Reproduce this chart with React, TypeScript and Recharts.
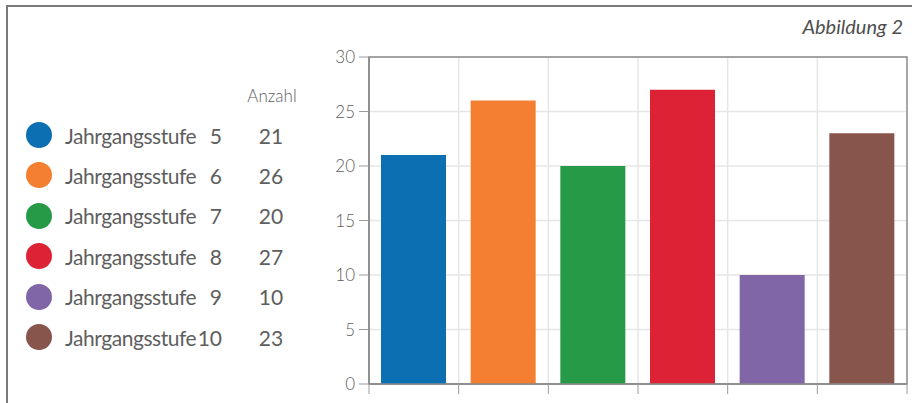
import { BarChart, Bar, Cell, XAxis, YAxis, CartesianGrid, ReferenceArea } from "recharts";

const grades = ["5", "6", "7", "8", "9", "10"];
const counts = [21, 26, 20, 27, 10, 23];
const colors = ["#0b6fb2", "#f47f30", "#279a47", "#dc2234", "#8066a6", "#87554c"];
const yTicks = [0, 5, 10, 15, 20, 25, 30];

const data = grades.map((g, i) => ({ grade: g, count: counts[i] }));

const FONT = "Lato, 'Open Sans', sans-serif";
const TEXT = "#5e5e5e";
const FRAME = "#8a8a8a";

// tick marks sit on the category boundaries, not at the band centres
function BoundaryTick(props: any) {
  const { x, y, payload, index, width, visibleTicksCount } = props;
  const half = payload?.offset || width / visibleTicksCount / 2;
  return (
    <g>
      <line x1={x - half} x2={x - half} y1={y} y2={y + 10} stroke="#9a9a9a" />
      {index === visibleTicksCount - 1 && (
        <line x1={x + half} x2={x + half} y1={y} y2={y + 10} stroke="#9a9a9a" />
      )}
    </g>
  );
}

function Legend() {
  return (
    <div style={{ position: "absolute", left: 0, top: 0, fontFamily: FONT, color: TEXT }}>
      <div
        style={{
          position: "absolute",
          left: 232,
          width: 80,
          top: 85,
          textAlign: "center",
          fontSize: 17,
          fontWeight: 300,
          whiteSpace: "nowrap",
        }}
      >
        Anzahl
      </div>
      {grades.map((g, i) => (
        <div
          key={g}
          style={{
            position: "absolute",
            top: 115 + i * 40.4,
            left: 0,
            height: 40,
            width: 320,
            display: "flex",
            alignItems: "center",
            fontSize: 21,
            whiteSpace: "nowrap",
          }}
        >
          <span
            style={{
              position: "absolute",
              left: 26,
              width: 26,
              height: 26,
              borderRadius: "50%",
              background: colors[i],
            }}
          />
          <span style={{ position: "absolute", left: 65, letterSpacing: -0.45 }}>Jahrgangsstufe</span>
          <span style={{ position: "absolute", left: 192, width: 30, textAlign: "right" }}>{g}</span>
          <span style={{ position: "absolute", left: 246, width: 50, textAlign: "center" }}>
            {counts[i]}
          </span>
        </div>
      ))}
    </div>
  );
}

export default function App() {
  return (
    <div
      style={{
        position: "absolute",
        left: 0,
        top: 0,
        width: 912,
        height: 403,
        overflow: "hidden",
        background: "#fff",
      }}
    >
      <div
        style={{
          position: "absolute",
          left: 6,
          top: 5,
          width: 912,
          height: 403,
          borderTop: "2px solid #7a7a7a",
          borderLeft: "2px solid #7a7a7a",
        }}
      />
      <div
        style={{
          position: "absolute",
          right: 9,
          top: 14,
          fontFamily: FONT,
          fontStyle: "italic",
          fontSize: 20,
          color: "#4e4e4e",
        }}
      >
        Abbildung 2
      </div>
      <Legend />
      <div style={{ position: "absolute", left: 0, top: 0 }}>
        <BarChart
          width={912}
          height={403}
          data={data}
          margin={{ top: 57, right: 5, bottom: 7, left: 0 }}
          barCategoryGap={0}
        >
          <CartesianGrid
            stroke="#e6e6e6"
            strokeWidth={1.5}
            verticalCoordinatesGenerator={({ offset }: any) =>
              grades.map((_, i) => offset.left + (offset.width * i) / grades.length)
            }
          />
          <XAxis
            dataKey="grade"
            height={12}
            tickSize={0}
            tickMargin={0}
            axisLine={{ stroke: FRAME, strokeWidth: 1.5 }}
            tick={<BoundaryTick />}
            interval={0}
          />
          <YAxis
            width={369}
            domain={[0, 30]}
            ticks={yTicks}
            tickSize={10}
            tickMargin={4}
            axisLine={{ stroke: FRAME, strokeWidth: 1.5 }}
            tickLine={{ stroke: "#9a9a9a" }}
            tick={{ fill: TEXT, fontSize: 17, fontFamily: FONT, fontWeight: 300 }}
          />
          <ReferenceArea y1={0} y2={30} fill="none" stroke={FRAME} strokeWidth={1.5} ifOverflow="visible" />
          <Bar dataKey="count" barSize={65} isAnimationActive={false}>
            {data.map((d, i) => (
              <Cell key={d.grade} fill={colors[i]} />
            ))}
          </Bar>
        </BarChart>
      </div>
    </div>
  );
}
